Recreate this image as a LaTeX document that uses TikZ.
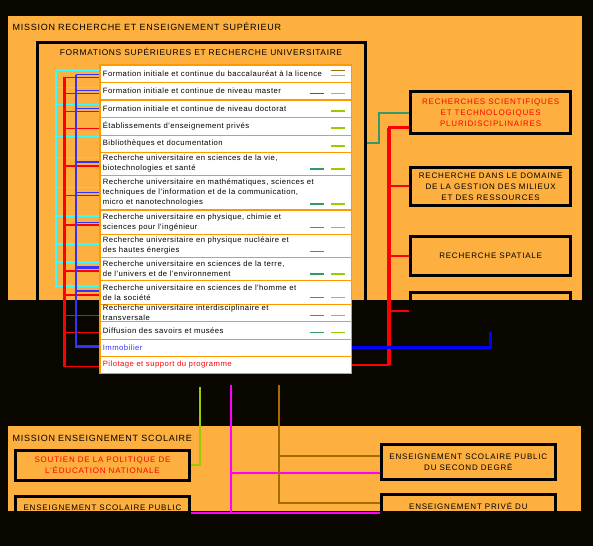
\documentclass[tikz,border=0pt]{standalone}
\usepackage{fontspec}
\setmainfont{Liberation Sans}
\newfontfamily\titlef[LetterSpace=8]{Liberation Sans}
\newfontfamily\listf[LetterSpace=6]{Liberation Sans}
\newfontfamily\boxf[LetterSpace=10]{Liberation Sans}
\newcommand\listtxt{\listf\fontsize{7.7}{10}\selectfont}
\newcommand\boxtxt{\boxf\fontsize{8}{11}\selectfont}
\newcommand\titletxt{\titlef\fontsize{9}{11}\selectfont}
\newcommand\subtxt{\titlef\fontsize{8.4}{10}\selectfont}
\definecolor{bgk}{RGB}{10,6,0}
\definecolor{orng}{RGB}{253,176,64}
\definecolor{lorng}{RGB}{255,153,0}
\definecolor{cyanl}{RGB}{51,255,255}
\definecolor{bluel}{RGB}{51,51,255}
\definecolor{blueR}{RGB}{0,0,255}
\definecolor{redl}{RGB}{255,0,0}
\definecolor{tealc}{RGB}{51,153,102}
\definecolor{greenc}{RGB}{153,204,0}
\definecolor{brownc}{RGB}{165,108,0}
\definecolor{purplec}{RGB}{153,51,102}
\definecolor{magc}{RGB}{255,0,255}
\tikzset{
  frame/.style={draw=black, line width=3pt, inner sep=0pt, align=center, font=\boxtxt},
  rowbox/.style={draw=lorng, line width=1.3pt, fill=white, minimum width=251.5pt, inner sep=0pt},
  rowtext/.style={anchor=west, align=left, inner sep=0pt, font=\listtxt, xshift=3.3pt},
  mark tick/.style={line width=1.2pt},
  cyanbus/.style={draw=cyanl, line width=1.2pt},
  redbus/.style={draw=redl, line width=1.2pt},
  bluebus/.style={draw=bluel, line width=1.2pt},
}
\begin{document}
\begin{tikzpicture}[x=1pt,y=-1pt]
\useasboundingbox (0,0) rectangle (593,546);
\fill[bgk] (0,0) rectangle (593,546);
% ---------- upper panel
\fill[orng] (8,16) rectangle (582,300);
\begin{scope}
\clip (8,16) rectangle (582,300);
\node[frame, minimum width=328pt, minimum height=398pt] (fsu) at (201.2,241.2) {};
\node[frame, minimum width=159.7pt, minimum height=42.3pt, text=redl] (b1) at (490.65,112.65)
  {RECHERCHES SCIENTIFIQUES\\ET TECHNOLOGIQUES\\PLURIDISCIPLINAIRES};
\node[frame, minimum width=159.7pt, minimum height=37.7pt] (b2) at (490.65,186.35)
  {RECHERCHE DANS LE DOMAINE\\DE LA GESTION DES MILIEUX\\ET DES RESSOURCES};
\node[frame, minimum width=159.7pt, minimum height=38.4pt] (b3) at (490.65,256)
  {RECHERCHE SPATIALE};
\node[frame, minimum width=159.7pt, minimum height=38pt] (b4) at (490.65,311.2) {};
\end{scope}
\node[anchor=base west, inner sep=0pt, font=\titletxt] (t1) at (12.5,30.7)
  {MISSION RECHERCHE ET ENSEIGNEMENT SUPÉRIEUR};
\node[anchor=base, inner sep=0pt, font=\subtxt] (t2) at (201,55.3)
  {FORMATIONS SUPÉRIEURES ET RECHERCHE UNIVERSITAIRE};
% ---------- lower panel
\fill[orng] (8,426) rectangle (581,510.7);
\begin{scope}
\clip (8,426) rectangle (581,510.7);
\node[frame, minimum width=174pt, minimum height=30pt, text=redl] (L1) at (102.5,465.2)
  {SOUTIEN DE LA POLITIQUE DE\\L'ÉDUCATION NATIONALE};
\node[frame, minimum width=174pt, minimum height=30pt] (L2) at (102.5,511.2) {};
\node[anchor=base, inner sep=0pt, font=\boxtxt] (L2t) at (102.5,510.7) {ENSEIGNEMENT SCOLAIRE PUBLIC};
\node[frame, minimum width=173.7pt, minimum height=35.3pt] (R1) at (468.35,461.85)
  {ENSEIGNEMENT SCOLAIRE PUBLIC\\DU SECOND DEGRÉ};
\node[frame, minimum width=173.7pt, minimum height=35.3pt] (R2) at (468.35,511.85) {};
\node[anchor=base, inner sep=0pt, font=\boxtxt] (R2t) at (468.35,509.7) {ENSEIGNEMENT PRIVÉ DU};
\end{scope}
\node[anchor=base west, inner sep=0pt, font=\titletxt] (t3) at (12.5,441)
  {MISSION ENSEIGNEMENT SCOLAIRE};
% ---------- list rows
\foreach \n/\t/\b in {1/65/82.3, 2/82.3/100, 3/100/117.3, 4/117.3/135.3, 5/135.3/152.3,
   6/152.3/175.7, 7/175.7/210, 8/210/234.3, 9/234.3/257.3, 10/257.3/280.3,
   11/280.3/304.3, 12/304.3/321.3, 13/321.3/339.3, 14/339.3/356.3, 15/356.3/373.3}{
  \pgfmathsetmacro\hh{\b-\t}
  \pgfmathsetmacro\cc{(\t+\b)/2}
  \node[rowbox, minimum height=\hh pt] (r\n) at (225.75,\cc) {};
}
\node[rowtext] at (r1.west) {Formation initiale et continue du baccalauréat à la licence};
\node[rowtext] at (r2.west) {Formation initiale et continue de niveau master};
\node[rowtext] at (r3.west) {Formation initiale et continue de niveau doctorat};
\node[rowtext] at (r4.west) {Établissements d'enseignement privés};
\node[rowtext] at (r5.west) {Bibliothèques et documentation};
\node[rowtext] at (r6.west) {Recherche universitaire en sciences de la vie,\\biotechnologies et santé};
\node[rowtext] at (r7.west) {Recherche universitaire en mathématiques, sciences et\\techniques de l'information et de la communication,\\micro et nanotechnologies};
\node[rowtext] at (r8.west) {Recherche universitaire en physique, chimie et\\sciences pour l'ingénieur};
\node[rowtext] at (r9.west) {Recherche universitaire en physique nucléaire et\\des hautes énergies};
\node[rowtext] at (r10.west) {Recherche universitaire en sciences de la terre,\\de l'univers et de l'environnement};
\node[rowtext] at (r11.west) {Recherche universitaire en sciences de l'homme et\\de la société};
\node[rowtext] at (r12.west) {Recherche universitaire interdisciplinaire et\\transversale};
\node[rowtext] at (r13.west) {Diffusion des savoirs et musées};
\node[rowtext, text=bluel] at (r14.west) {Immobilier};
\node[rowtext, text=redl] at (r15.west) {Pilotage et support du programme};
% ---------- small marks in the rows
\draw[mark tick, brownc] (331,70.3) -- (345,70.3);
\draw[mark tick, greenc] (331,75.7) -- (345,75.7);
\draw[mark tick, purplec] (310,93.3) -- (324,93.3);
\foreach \y in {93.3,111,128,146,169,204,227.3,274,297.3,315.3,332.3}
  \draw[mark tick, greenc] (331,\y) -- (345,\y);
\foreach \y in {169,204,227.3,251.3,274,297.3,315.3,332.3}
  \draw[mark tick, tealc] (310,\y) -- (324,\y);
% ---------- left buses
\draw[cyanbus, line width=2pt] (56,70) -- (56,286.5);
\foreach \y/\r in {70/r1, 87.3/r2, 104.3/r3, 136.7/r5, 157.3/r6, 187.3/r7, 216/r8, 244/r9, 262/r10, 286/r11}
  \draw[cyanbus] (56,\y) -- (\r.west |- 56,\y);
\draw[redbus, line width=3pt] (64,77.3) -- (64,367.3);
\foreach \y/\r in {77.3/r1, 93.3/r2, 111.3/r3, 128.3/r4, 166/r6, 195.3/r7, 225/r8, 271/r10, 315.3/r12, 332.3/r13, 366.7/r15}
  \draw[redbus] (64,\y) -- (\r.west |- 64,\y);
\draw[redbus, line width=2.5pt] (64,295) -- (r11.west |- 64,295);
\draw[bluebus] (76,74.7) -- (76,346.7);
\foreach \y/\r in {74.7/r1, 90.3/r2, 108.3/r3, 162/r6, 192.3/r7, 222.3/r8, 291/r11}
  \draw[bluebus] (76,\y) -- (\r.west |- 76,\y);
\draw[bluebus, line width=2.5pt] (76,267.7) -- (r10.west |- 76,267.7);
\draw[bluebus, line width=2.5pt] (75.4,346.7) -- (r14.west |- 76,346.7);
% ---------- right connectors
\draw[tealc, line width=2pt] (fsu.east |- 0,143.3) -| (379,112.65) -- (b1.west);
\draw[redl, line width=2.5pt] (r15.east) -| (389,127.7) -- (b1.west |- 389,127.7);
\draw[redl, line width=3.2pt] (389,127.7) -- (389,365.15);
\foreach \b in {b2,b3,b4}
  \draw[redl, line width=2pt] (389,0 |- \b.west) -- (\b.west);
\draw[blueR, line width=3pt] (r14.east) -| (b4.south);
% ---------- lower connectors
\coordinate (gtop) at (200.3,386.7);
\coordinate (mtop) at (230.7,385);
\coordinate (btop) at (279.3,385);
\draw[greenc, line width=2.2pt] (gtop) |- (L1.east);
\draw[magc, line width=2pt] (mtop) |- (L2.east |- 0,512.7);
\draw[magc, line width=2pt] (230.7,512.7) -- (R2.west |- 0,512.7);
\draw[magc, line width=2pt] (230.7,472.7) -- (R1.west |- 0,472.7);
\draw[brownc, line width=2pt] (btop) |- (R2.west |- 0,502.7);
\draw[brownc, line width=2pt] (279.3,456) -- (R1.west |- 0,456);
\end{tikzpicture}
\end{document}
